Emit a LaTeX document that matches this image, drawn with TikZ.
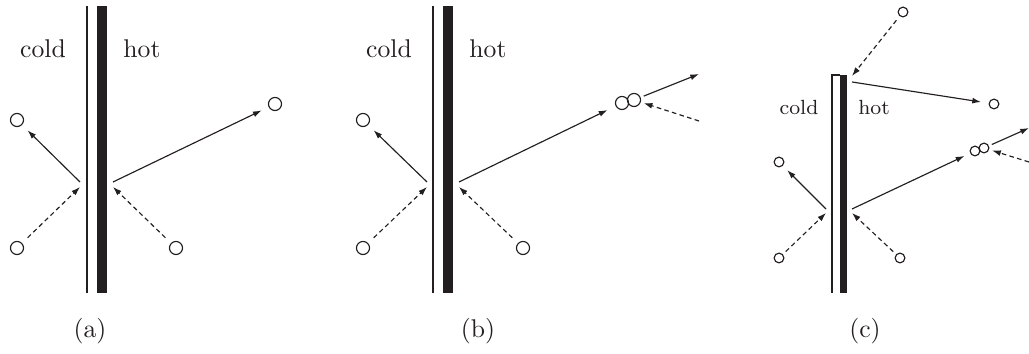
\documentclass[tikz,border=0pt]{standalone}
\usepackage{tikz}
\usetikzlibrary{arrows.meta}
\definecolor{ink}{HTML}{231F20}
\tikzset{
  mol/.style={circle, draw=ink, line width=0.45pt, minimum size=5.1pt, inner sep=0pt},
  molsm/.style={mol, minimum size=3.8pt},
  arr/.style={-{Latex[length=3.4pt,width=2.3pt]}, line width=0.45pt, draw=ink},
  darr/.style={arr, dash pattern=on 1.8pt off 1.3pt},
  lbl/.style={font=\normalsize, text=ink, anchor=base, inner sep=0pt},
  lblsm/.style={lbl, font=\footnotesize},
  sublbl/.style={lbl, anchor=center},
  film/.style={draw=ink, line width=0.45pt},
  bar/.style={fill=ink},
}
\begin{document}
\begin{tikzpicture}[x=0.39pt, y=-0.39pt]
  \useasboundingbox (0,0) rectangle (1029,354);
  \draw[film] (87,6) -- (87,293);
  \fill[bar] (97,6) rectangle (107,293);
  \node[lbl] (acold) at (43,58) {cold};
  \node[lbl] (ahot) at (142,58) {hot};
  \node[mol] (a1) at (17,120) {};
  \node[mol] (a2) at (17,248) {};
  \node[mol] (a3) at (275,104) {};
  \node[mol] (a4) at (176,248) {};
  \coordinate (aLout) at (80,182);
  \coordinate (aLin) at (80,187);
  \coordinate (aRout) at (113,182);
  \coordinate (aRin) at (113,187);
  \draw[arr, shorten >=3pt] (aLout) -- (a1);
  \draw[darr, shorten <=3pt] (a2) -- (aLin);
  \draw[arr, shorten >=3pt] (aRout) -- (a3);
  \draw[darr, shorten <=3pt] (a4) -- (aRin);
  \node[sublbl] (capa) at (90,331) {(a)};

  \draw[film] (433,6) -- (433,293);
  \fill[bar] (443,6) rectangle (453,293);
  \node[lbl] (bcold) at (389,58) {cold};
  \node[lbl] (bhot) at (488,58) {hot};
  \node[mol] (b1) at (363,120) {};
  \node[mol] (b2) at (363,248) {};
  \node[mol] (b3) at (523,248) {};
  \node[mol] (b4) at (622,103) {};
  \node[mol] (b5) at (634,100) {};
  \coordinate (bLout) at (427,182);
  \coordinate (bLin) at (427,187);
  \coordinate (bRout) at (459,182);
  \coordinate (bRin) at (459,187);
  \coordinate (bout) at (699,74);
  \coordinate (bin) at (699,121);
  \draw[arr, shorten >=3pt] (bLout) -- (b1);
  \draw[darr, shorten <=3pt] (b2) -- (bLin);
  \draw[arr, shorten >=3.5pt] (bRout) -- (b4);
  \draw[darr, shorten <=3pt] (b3) -- (bRin);
  \draw[arr, shorten <=1.3pt] (b5) -- (bout);
  \draw[darr, shorten >=1.2pt] (bin) -- (b5);
  \node[sublbl] (capb) at (478,331) {(b)};

  \draw[film] (832,293) -- (832,75) -- (840,75);
  \fill[bar] (840,75) rectangle (847,293);
  \node[lblsm] (ccold) at (799,115) {cold};
  \node[lblsm] (chot) at (874,115) {hot};
  \node[molsm] (c1) at (903,12) {};
  \node[molsm] (c2) at (994,104) {};
  \node[molsm] (c3) at (779,162) {};
  \node[molsm] (c4) at (779,258) {};
  \node[molsm] (c5) at (900,258) {};
  \node[molsm] (c6) at (975,151) {};
  \node[molsm] (c7) at (984,148) {};
  \coordinate (cTin) at (852,76);
  \coordinate (cTout) at (852,82);
  \coordinate (cLout) at (826,209);
  \coordinate (cLin) at (826,213);
  \coordinate (cRout) at (852,209);
  \coordinate (cRin) at (852,213);
  \coordinate (cout) at (1029,128);
  \coordinate (cin) at (1029,162);
  \draw[darr, shorten <=2pt] (c1) -- (cTin);
  \draw[arr, shorten >=3pt] (cTout) -- (c2);
  \draw[arr, shorten >=2.4pt] (cLout) -- (c3);
  \draw[darr, shorten <=1.5pt] (c4) -- (cLin);
  \draw[arr, shorten >=2.4pt] (cRout) -- (c6);
  \draw[darr, shorten <=1.5pt] (c5) -- (cRin);
  \draw[arr, shorten <=1.2pt] (c7) -- (cout);
  \draw[darr, shorten >=1.2pt] (cin) -- (c7);
  \node[sublbl] (capc) at (865,331) {(c)};
\end{tikzpicture}
\end{document}
